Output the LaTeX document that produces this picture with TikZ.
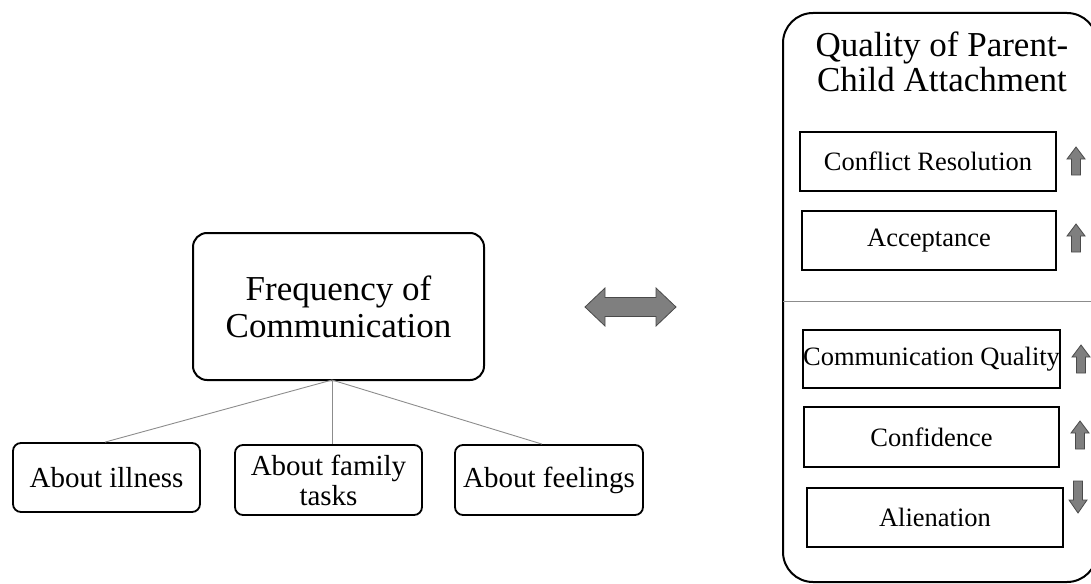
\documentclass[tikz,border=0pt]{standalone}
\usepackage{fontspec}
\setmainfont{Liberation Serif}
\usetikzlibrary{calc}
\definecolor{arrfill}{HTML}{7F7F7F}
\definecolor{arrdraw}{HTML}{4A4A4A}
\definecolor{linkgray}{HTML}{8C8C8C}
\begin{document}
\begin{tikzpicture}[x=1pt,y=-1pt,
  rbox/.style={draw, line width=1.8pt, rounded corners=8pt, inner sep=0pt, align=center,
    font=\fontsize{29}{30}\selectfont},
  sqbox/.style={draw, line width=1.8pt, inner sep=0pt, align=center,
    font=\fontsize{26.5}{30}\selectfont, minimum width=256pt, minimum height=59pt},
  link/.style={draw=linkgray, line width=0.9pt},
  fatarrow/.style={fill=arrfill, draw=arrdraw, line width=0.8pt, line join=miter},
  uparr/.pic={\path[fatarrow] (0,-14) -- (9,-2) -- (4.5,-2) -- (4.5,14) -- (-4.5,14) -- (-4.5,-2) -- (-9,-2) -- cycle;},
  downarr/.pic={\path[fatarrow] (0,16) -- (9,3) -- (4.5,3) -- (4.5,-16) -- (-4.5,-16) -- (-4.5,3) -- (-9,3) -- cycle;}
]
\useasboundingbox (0,0) rectangle (1091,583);
\clip (0,0) rectangle (1091,583);

% left part
\node[rbox, rounded corners=14pt, line width=2pt, minimum width=291pt, minimum height=147pt,
  font=\fontsize{35}{37}\selectfont] (freq) at (338.5,306.5) {Frequency of\\Communication};
\node[rbox, minimum width=187pt, minimum height=69pt] (ill) at (106.5,477.5) {About illness};
\node[rbox, minimum width=187pt, minimum height=70pt] (fam) at (328.5,480) {About family\\tasks};
\node[rbox, minimum width=188pt, minimum height=70pt] (feel) at (549,480) {About feelings};

\coordinate (j) at (332,380);
\draw[link] (j) -- ($(ill.north)+(-1.5,0)$);
\draw[link] (j) -- (j |- fam.north);
\draw[link] (j) -- ($(feel.north)+(-7,0)$);

% double arrow
\path[fatarrow] (585,307) -- (605,288) -- (605,297.5) -- (656,297.5) -- (656,288) -- (676,307)
  -- (656,326) -- (656,316.5) -- (605,316.5) -- (605,326) -- cycle;

% right panel
\node[draw, line width=2pt, rounded corners=30pt, minimum width=314pt, minimum height=569pt, inner sep=0pt]
  (panel) at (940,297.5) {};
\node[font=\fontsize{35}{35}\selectfont, align=center, inner sep=0pt] (title) at (942,62)
  {Quality of Parent-\\Child Attachment};
\coordinate (sepL) at (783,301);
\draw[draw=linkgray, line width=1pt] (sepL) -- (sepL -| panel.east);

\node[sqbox] (conf) at (928,161.5) {Conflict Resolution};
\node[sqbox, minimum width=254pt] (acc) at (929,240.5) {Acceptance};
\node[sqbox, minimum width=255pt, minimum height=58pt] (cq) at (931.5,359) {Communication Quality};
\node[sqbox, minimum width=255pt, minimum height=60pt] (cnf) at (931.5,437) {Confidence};
\node[sqbox] (ali) at (935,517.5) {Alienation};

\pic at (1076,161) {uparr};
\pic at (1076,238) {uparr};
\pic at (1081,359) {uparr};
\pic at (1080,435) {uparr};
\pic at (1078,497) {downarr};
\end{tikzpicture}
\end{document}
